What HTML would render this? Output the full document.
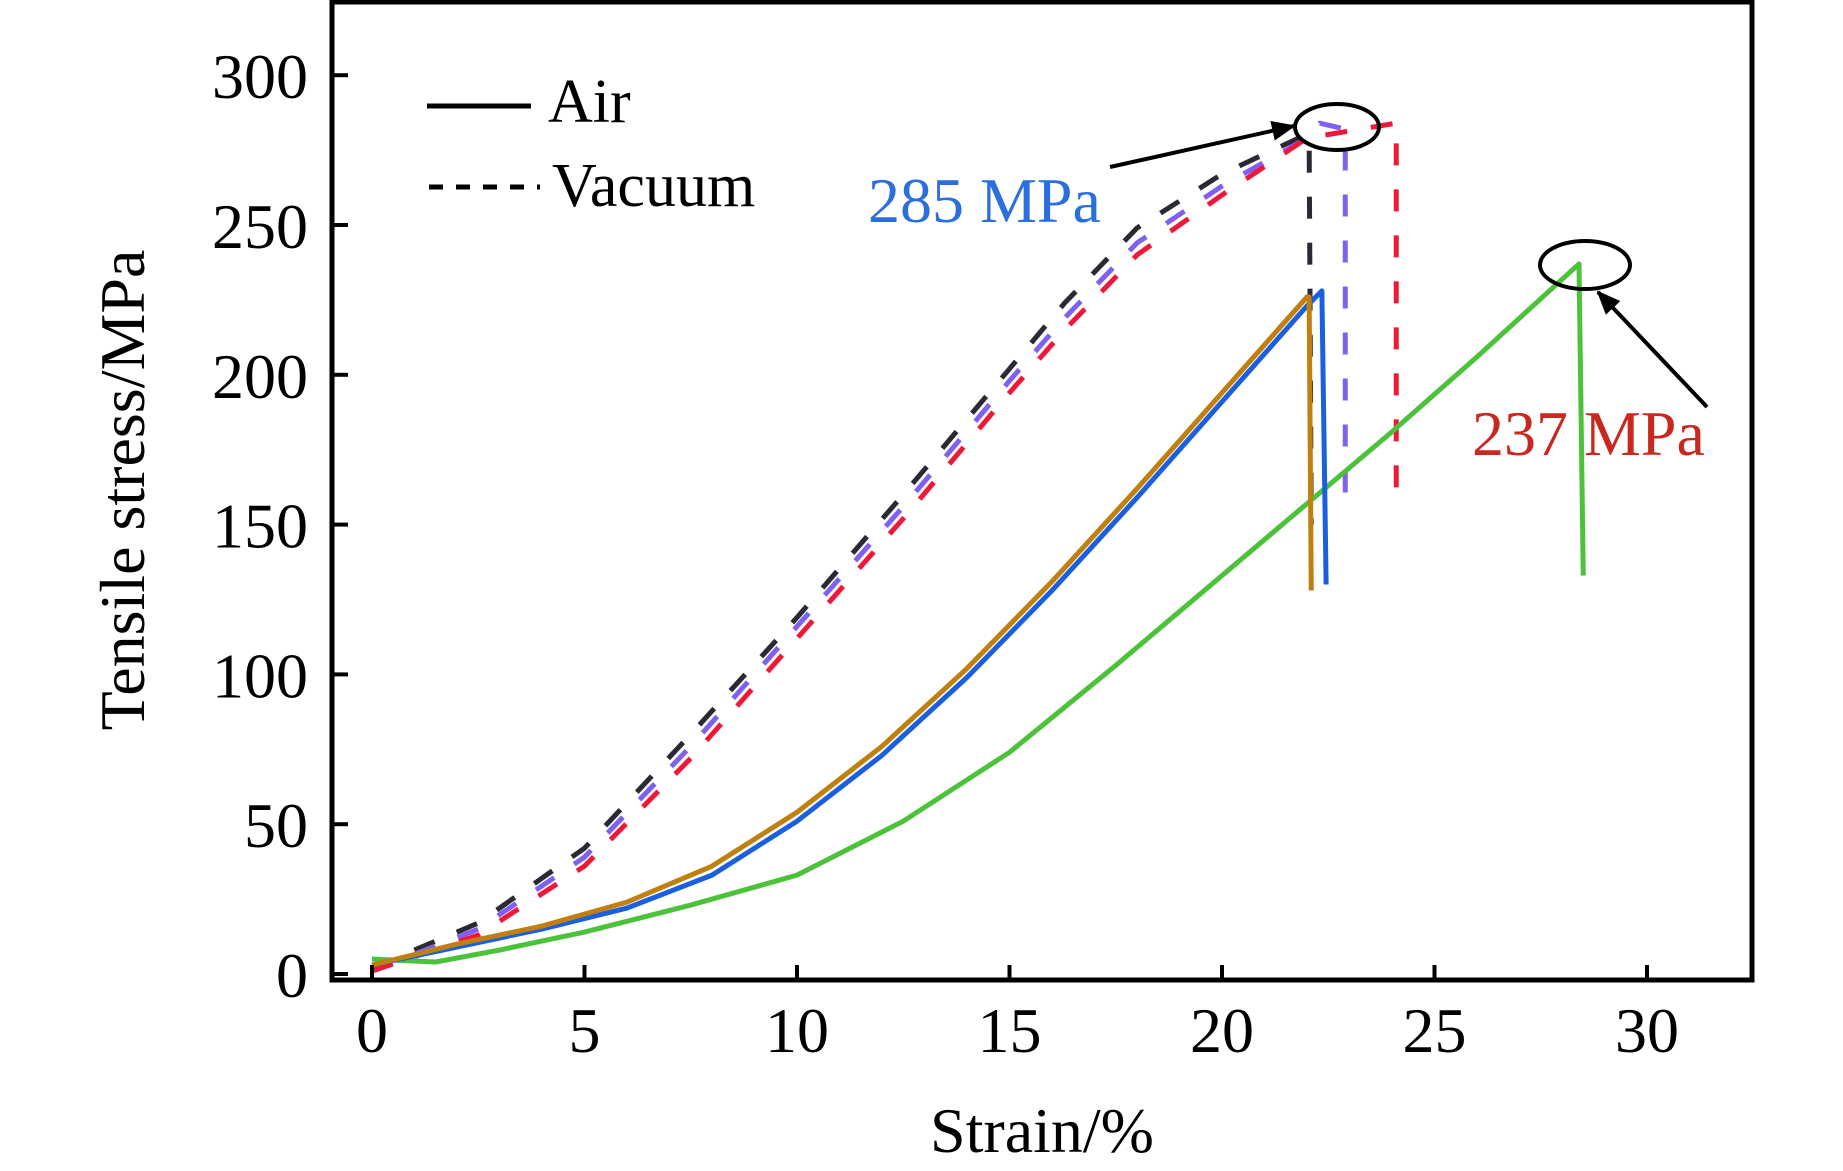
<!DOCTYPE html>
<html><head><meta charset="utf-8"><style>
html,body{margin:0;padding:0;background:#fff;}
svg{display:block;font-family:"Liberation Serif","Times New Roman",serif;}
</style></head><body>
<svg id="chart" width="1843" height="1171" viewBox="0 0 1843 1171" xmlns="http://www.w3.org/2000/svg">
<g id="marks"></g>
<rect x="332" y="2" width="1420" height="978" fill="none" stroke="#000" stroke-width="5"/>
<g id="axes"></g>
<text x="1042" y="1152" font-size="64" text-anchor="middle">Strain/%</text>
<text transform="translate(144,490) rotate(-90)" font-size="64" text-anchor="middle">Tensile stress/MPa</text>
<g>
<line x1="427" y1="106" x2="531" y2="106" stroke="#000" stroke-width="5"/>
<text x="548" y="122" font-size="62">Air</text>
<line x1="429" y1="187" x2="540" y2="187" stroke="#000" stroke-width="5" stroke-dasharray="14 13"/>
<text x="552" y="206" font-size="62">Vacuum</text>
</g>
<g>
<ellipse cx="1337" cy="127" rx="42" ry="23" fill="none" stroke="#000" stroke-width="4"/>
<ellipse cx="1585" cy="265" rx="45" ry="24" fill="none" stroke="#000" stroke-width="4"/>
<defs><marker id="ah2" markerWidth="24" markerHeight="20" refX="22" refY="10" orient="auto" markerUnits="userSpaceOnUse"><path d="M0,0 L24,10 L0,20 Z" fill="#000"/></marker></defs>
<line x1="1110" y1="167" x2="1294" y2="126" stroke="#000" stroke-width="4" marker-end="url(#ah2)"/>
<line x1="1707" y1="407" x2="1598" y2="292" stroke="#000" stroke-width="4" marker-end="url(#ah2)"/>
<text x="868" y="222" font-size="64" fill="#2a6fdb">285 MPa</text>
<text x="1472" y="455" font-size="64" fill="#c8281e">237 MPa</text>
</g>
</svg>
<script>
const xTicks = [0,5,10,15,20,25,30];
const yTicks = [0,50,100,150,200,250,300];
const orangeX = [0,2,4,6,8,10,12,14,16,18,20,22,22.05,22.1];
const orangeY = [3,10,16,24,36,54,76,102,131,162,194,226,226,128];
const blueX = [0,2,4,6,8,10,12,14,16,18,20,22,22.35,22.45];
const blueY = [3,9,15,22,33,51,73,99,128,159,191,223,228,130];
const greenX = [0,1.5,3,5,7.5,10,12.5,15,17.5,20,22,24,26,28.4,28.5];
const greenY = [5,4,8,14,23,33,51,74,103,133,157,181,206,237,133];
const blackX = [0,2.5,5,7.5,10,12.5,15,16.3,18,20,21.8,22.05,22.1];
const blackY = [2,17,42,80,119,160,202,224,249,267,279,280,150];
const purpleX = [0,2.5,5,7.5,10,12.5,15,16.3,18,20,22,22.3,22.9,22.9];
const purpleY = [1,15,39,76,116,156,198,219,244,263,279,284,282,155];
const redX = [0,2.5,5,7.5,10,12.5,15,16.3,18,20,22,24.1,24.1];
const redY = [1,13,36,72,112,152,194,215,240,260,279,284,162];

const NS = "http://www.w3.org/2000/svg";
function sx(v){ return 372 + v*42.5; }
function sy(v){ return 974 - v*2.996; }
const marks = document.getElementById('marks');
const axes = document.getElementById('axes');

function drawSeries(xs, ys, color, dashed, name){
  const p = document.createElementNS(NS,'polyline');
  p.setAttribute('points', xs.map((x,i)=>sx(x)+','+sy(ys[i])).join(' '));
  p.setAttribute('fill','none');
  p.setAttribute('stroke',color);
  p.setAttribute('stroke-width', 5);
  p.setAttribute('stroke-linejoin','round');
  if(dashed) p.setAttribute('stroke-dasharray','22 24');
  
  
  marks.appendChild(p);
}
drawSeries(blackX, blackY, '#2a2a35', true, 'vacuum-black-curve');
drawSeries(purpleX, purpleY, '#8060f0', true, 'vacuum-purple-curve');
drawSeries(redX, redY, '#f01838', true, 'vacuum-red-curve');
drawSeries(greenX, greenY, '#4cc23a', false, 'air-green-curve');
drawSeries(blueX, blueY, '#1a5fe0', false, 'air-blue-curve');
drawSeries(orangeX, orangeY, '#c08010', false, 'air-orange-curve');

xTicks.forEach(t=>{
  const l = document.createElementNS(NS,'line');
  l.setAttribute('x1',sx(t)); l.setAttribute('x2',sx(t));
  l.setAttribute('y1',980); l.setAttribute('y2',965);
  l.setAttribute('stroke','#000'); l.setAttribute('stroke-width',4);
  
  
  axes.appendChild(l);
  const tx = document.createElementNS(NS,'text');
  tx.setAttribute('x',sx(t)); tx.setAttribute('y',1052);
  tx.setAttribute('font-size',64); tx.setAttribute('text-anchor','middle');
  tx.textContent = t;
  
  
  axes.appendChild(tx);
});
yTicks.forEach(t=>{
  const l = document.createElementNS(NS,'line');
  l.setAttribute('x1',332); l.setAttribute('x2',348);
  l.setAttribute('y1',sy(t)); l.setAttribute('y2',sy(t));
  l.setAttribute('stroke','#000'); l.setAttribute('stroke-width',4);
  
  
  axes.appendChild(l);
  const tx = document.createElementNS(NS,'text');
  tx.setAttribute('x',308); tx.setAttribute('y',sy(t)+23);
  tx.setAttribute('font-size',64); tx.setAttribute('text-anchor','end');
  tx.textContent = t;
  
  
  axes.appendChild(tx);
});
</script>
</body></html>
